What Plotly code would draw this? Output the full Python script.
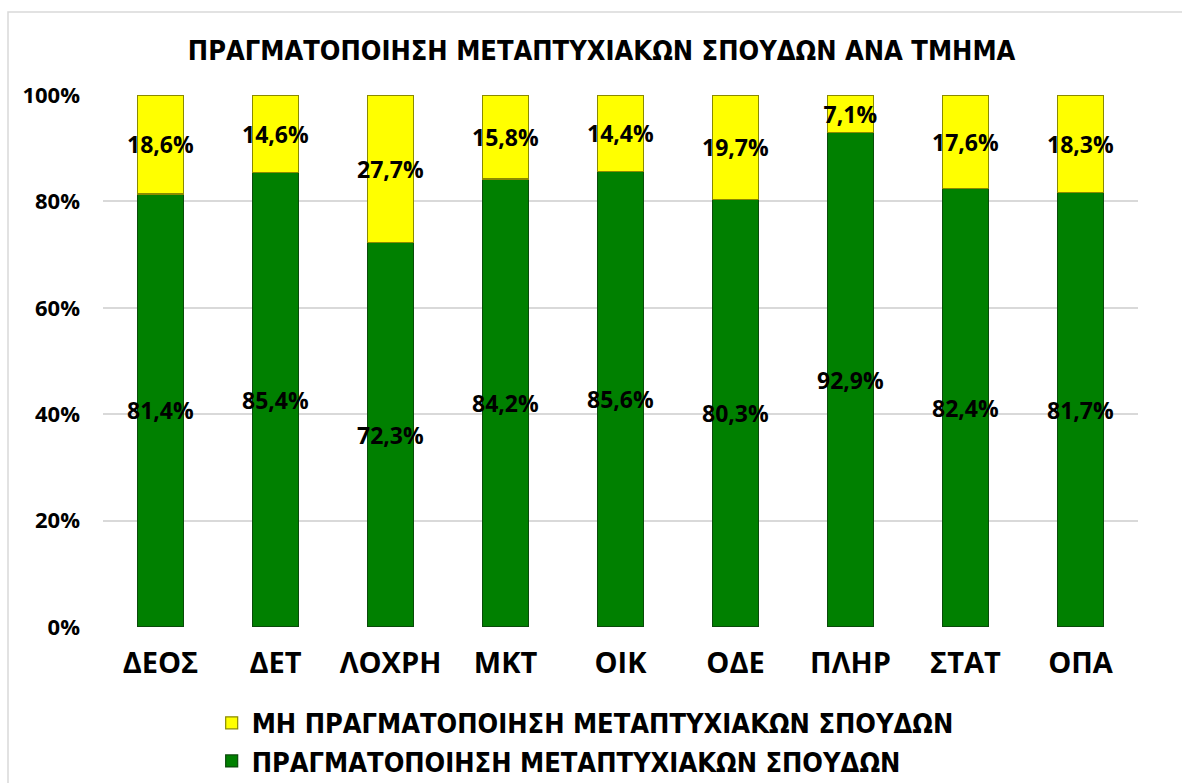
import plotly.graph_objects as go

categories = ["ΔΕΟΣ", "ΔΕΤ", "ΛΟΧΡΗ", "ΜΚΤ", "ΟΙΚ", "ΟΔΕ", "ΠΛΗΡ", "ΣΤΑΤ", "ΟΠΑ"]
done = [81.4, 85.4, 72.3, 84.2, 85.6, 80.3, 92.9, 82.4, 81.7]
not_done = [18.6, 14.6, 27.7, 15.8, 14.4, 19.7, 7.1, 17.6, 18.3]
name_done = "ΠΡΑΓΜΑΤΟΠΟΙΗΣΗ ΜΕΤΑΠΤΥΧΙΑΚΩΝ ΣΠΟΥΔΩΝ"
name_not = "ΜΗ ΠΡΑΓΜΑΤΟΠΟΙΗΣΗ ΜΕΤΑΠΤΥΧΙΑΚΩΝ ΣΠΟΥΔΩΝ"
title = "ΠΡΑΓΜΑΤΟΠΟΙΗΣΗ ΜΕΤΑΠΤΥΧΙΑΚΩΝ ΣΠΟΥΔΩΝ ΑΝΑ ΤΜΗΜΑ"


def fmt(v):
    return f"{v:.1f}".replace(".", ",") + "%"


label_font = dict(family="Open Sans", size=23, color="black", weight="bold")
narrow = "DejaVu Sans Condensed, Open Sans, sans-serif"

fig = go.Figure()
fig.add_trace(go.Bar(
    x=categories, y=done, name=name_done,
    marker=dict(color="#008000", line=dict(color="#0a4a0a", width=1.2)),
    text=[fmt(v) for v in done], textposition="inside", insidetextanchor="middle",
    textangle=0, constraintext="none", textfont=label_font,
))
fig.add_trace(go.Bar(
    x=categories, y=not_done, name=name_not,
    marker=dict(color="#FFFF00", line=dict(color="#8a8a00", width=1.2)),
    text=[fmt(v) for v in not_done], textposition="inside", insidetextanchor="middle",
    textangle=0, constraintext="none", textfont=label_font,
))

fig.update_layout(
    width=1182, height=783,
    barmode="stack", bargap=0.6,
    plot_bgcolor="white", paper_bgcolor="white",
    margin=dict(l=103, r=44, t=95, b=156, autoexpand=False),
    title=dict(text=title, x=0.509, xanchor="center", y=0.935, yanchor="middle",
               font=dict(family=narrow, size=27, color="black", weight="bold")),
    xaxis=dict(showgrid=False, showline=False, ticks="", ticklabelstandoff=16,
               tickfont=dict(family="Open Sans", size=29, color="black", weight="bold")),
    yaxis=dict(range=[0, 100], dtick=20, ticksuffix="%", showgrid=True,
               gridcolor="#d9d9d9", gridwidth=1.5, zeroline=False, showline=False,
               ticklabelstandoff=22,
               tickfont=dict(family="Open Sans", size=22, color="black", weight="bold")),
    legend=dict(orientation="v", x=0.105, xanchor="left", y=-0.135, yanchor="top",
                traceorder="reversed", itemwidth=30,
                font=dict(family=narrow, size=27, color="black", weight="bold"),
                bgcolor="rgba(0,0,0,0)"),
    showlegend=True,
    shapes=[dict(type="rect", xref="paper", yref="paper",
                 x0=(8 - 103) / 1035, x1=1.2, y0=-0.6, y1=1 + (95 - 12) / 532,
                 line=dict(color="#d9d9d9", width=1.5), fillcolor="rgba(0,0,0,0)",
                 layer="below")],
)

fig.write_html("out.html", config={"displayModeBar": False},
               post_script="document.body.style.margin='0';")
